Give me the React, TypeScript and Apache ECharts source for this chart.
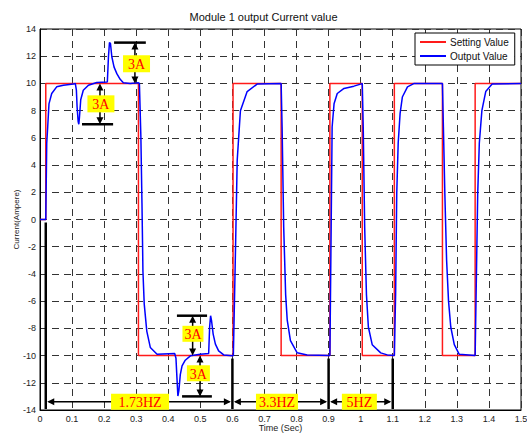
import React, { useEffect, useRef } from "react";
import * as echarts from "echarts";

const TITLE = "Module 1 output Current value";
const X_NAME = "Time (Sec)";
const Y_NAME = "Current(Ampere)";
const X_MIN = 0, X_MAX = 1.5, X_STEP = 0.1;
const Y_MIN = -14, Y_MAX = 14, Y_STEP = 2;

// Setting value (square wave) [time, current]
const settingValue: [number, number][] = [
  [0, 0], [0.018, 0], [0.018, 10], [0.307, 10], [0.307, -10], [0.602, -10], [0.602, 10],
  [0.752, 10], [0.752, -10], [0.904, -10], [0.904, 10], [1.005, 10], [1.005, -10],
  [1.105, -10], [1.105, 10], [1.255, 10], [1.255, -10], [1.357, -10], [1.357, 10], [1.5, 10],
];

// Output value
const outputValue: [number, number][] = [
  [0, 0], [0.018, 0], [0.019, 1.9], [0.021, 5.6], [0.024, 6.8], [0.028, 8.5], [0.0365, 9.26],
  [0.052, 9.75], [0.073, 9.87], [0.104, 9.95], [0.11, 10.0], [0.1135, 9.5], [0.1156, 8.3],
  [0.119, 7.2], [0.121, 7.0], [0.123, 7.5], [0.127, 8.8], [0.135, 9.5], [0.151, 9.87],
  [0.177, 10.07], [0.21, 10.1], [0.2135, 11.96], [0.2166, 13.0], [0.2197, 12.95], [0.224, 11.96],
  [0.231, 11.2], [0.24, 10.7], [0.25, 10.3], [0.26, 10.05], [0.281, 10.0], [0.307, 10.05],
  [0.31, 10], [0.3146, 6.07], [0.318, 1.2], [0.321, -3.8], [0.325, -6.2], [0.333, -8.2],
  [0.344, -9.4], [0.365, -9.9], [0.42, -9.85], [0.424, -10.2], [0.427, -11.6], [0.43, -12.97],
  [0.433, -12.6], [0.4375, -11.4], [0.443, -10.76], [0.453, -10.34], [0.469, -10.02], [0.5, -9.9],
  [0.526, -9.85], [0.529, -7.9], [0.532, -7.07], [0.535, -7.44], [0.54, -8.42], [0.547, -9.16],
  [0.557, -9.65], [0.573, -9.95], [0.599, -10.02], [0.603, -10], [0.609, -3.0], [0.615, 4.35],
  [0.625, 8.0], [0.646, 9.4], [0.677, 9.95], [0.752, 10], [0.755, 6.8], [0.76, -0.57],
  [0.766, -5.5], [0.771, -7.4], [0.781, -8.9], [0.802, -9.8], [0.833, -9.95], [0.904, -10],
  [0.908, -0.57], [0.911, 6.8], [0.917, 8.5], [0.927, 9.26], [0.948, 9.63], [0.979, 9.8],
  [1.0, 9.95], [1.005, 10], [1.008, 6.8], [1.0125, -0.57], [1.018, -5.5], [1.024, -7.9],
  [1.036, -9.2], [1.0625, -9.8], [1.083, -9.95], [1.105, -10], [1.109, -5.5], [1.1125, 1.9],
  [1.117, 5.6], [1.123, 7.8], [1.13, 9.0], [1.146, 9.75], [1.167, 10.0], [1.255, 10],
  [1.258, 6.8], [1.2625, 1.9], [1.268, -3.0], [1.274, -6.0], [1.281, -7.9], [1.292, -9.2],
  [1.307, -9.9], [1.357, -10], [1.36, -5.5], [1.365, 1.9], [1.37, 5.6], [1.378, 8.0],
  [1.39, 9.4], [1.41, 9.95], [1.5, 10],
];

// Dimension annotations: bar at barV from t0..t1, double arrow at tArrow between vA and vB, label at (tL, vL)
const dimAnnotations = [
  { bar: [0.231, 0.33, 13], arrow: [0.296, 13, 10], label: [0.301, 11.45], text: "3A", w: 27, h: 17 },
  { bar: [0.131, 0.228, 7], arrow: [0.187, 10, 7], label: [0.19, 8.5], text: "3A", w: 27, h: 17 },
  { bar: [0.427, 0.521, -7.07], arrow: [0.476, -7.07, -10], label: [0.477, -8.4], text: "3A", w: 21, h: 16 },
  { bar: [0.443, 0.536, -13], arrow: [0.499, -10, -13], label: [0.494, -11.3], text: "3A", w: 23, h: 16 },
];

// Frequency spans [tStart, tEnd, labelT, label, boxWidth]
const freqSpans: [number, number, number, string, number][] = [
  [0.018, 0.6, 0.312, "1.73HZ", 58],
  [0.6, 0.9, 0.739, "3.3HZ", 42],
  [0.9, 1.1, 0.996, "5HZ", 35],
];
const FREQ_V = -13.4;
// Marker verticals [t, top value]
const markerLines: [number, number][] = [[0.018, 0], [0.6, -10], [0.9, -10], [1.1, -10]];

const SANS = "'Liberation Sans', Arial, sans-serif";
const SERIF = "'Liberation Serif', 'Times New Roman', serif";

export default function App() {
  const ref = useRef<HTMLDivElement>(null);
  useEffect(() => {
    if (!ref.current) return;
    const chart = echarts.init(ref.current, undefined, { renderer: "svg" });
    const gridLine = { show: true, lineStyle: { color: "#333", type: [7, 5] as any, width: 1 } };
    chart.setOption({
      animation: false,
      backgroundColor: "#fff",
      title: {
        text: TITLE, left: "center", top: 6,
        textStyle: { fontSize: 11, fontWeight: "normal", color: "#111", fontFamily: SANS },
      },
      grid: {
        left: 40, right: 6, top: 29, bottom: 26, containLabel: false, outerBoundsMode: "none",
        show: true, borderColor: "#000", borderWidth: 1,
      } as any,
      legend: {
        orient: "vertical", left: 415, top: 33, padding: [4, 6, 4, 5], itemGap: 4,
        itemWidth: 26, itemHeight: 2, icon: "rect",
        backgroundColor: "#fff", borderColor: "#000", borderWidth: 1,
        textStyle: { fontSize: 10, color: "#111", fontFamily: SANS, padding: [0, 0, 0, -1] },
        data: ["Setting Value", "Output Value"],
      },
      xAxis: {
        type: "value", min: X_MIN, max: X_MAX, interval: X_STEP,
        name: X_NAME, nameLocation: "middle", nameGap: 13, nameMoveOverlap: false,
        nameTextStyle: { fontSize: 9, color: "#222", fontFamily: SANS },
        axisLine: { onZero: false, lineStyle: { color: "#000" } },
        axisTick: { show: false },
        axisLabel: { fontSize: 9, color: "#222", fontFamily: SANS, margin: 4 },
        splitLine: gridLine,
      } as any,
      yAxis: {
        type: "value", min: Y_MIN, max: Y_MAX, interval: Y_STEP,
        name: Y_NAME, nameLocation: "middle", nameGap: 20, nameMoveOverlap: false,
        nameTextStyle: { fontSize: 8, color: "#222", fontFamily: SANS },
        axisLine: { show: true, onZero: false, lineStyle: { color: "#000" } },
        axisTick: { show: false },
        axisLabel: { fontSize: 9, color: "#222", fontFamily: SANS, margin: 4 },
        splitLine: gridLine,
      } as any,
      series: [
        {
          name: "Setting Value", type: "line", data: settingValue, showSymbol: false,
          lineStyle: { color: "#ff1a1a", width: 1.5 }, itemStyle: { color: "#ff1a1a" }, z: 2,
        },
        {
          name: "Output Value", type: "line", data: outputValue, showSymbol: false,
          lineStyle: { color: "#0000ff", width: 1.5 }, itemStyle: { color: "#0000ff" }, z: 3,
        },
      ],
    });

    const px = (t: number, v: number) => chart.convertToPixel({ xAxisIndex: 0, yAxisIndex: 0 }, [t, v]) as number[];
    const g: any[] = [];
    const black = { stroke: "#000", lineWidth: 1.5 };
    const head = (x: number, y: number, dir: "up" | "down" | "left" | "right") => {
      const L = 7, W = 3.5;
      let pts: number[][];
      if (dir === "up") pts = [[x, y], [x - W, y + L], [x + W, y + L]];
      else if (dir === "down") pts = [[x, y], [x - W, y - L], [x + W, y - L]];
      else if (dir === "left") pts = [[x, y], [x + L, y - W], [x + L, y + W]];
      else pts = [[x, y], [x - L, y - W], [x - L, y + W]];
      g.push({ type: "polygon", shape: { points: pts }, style: { fill: "#000" }, z: 100 });
    };
    const label = (cx: number, cy: number, text: string, w: number, h: number) => {
      g.push({ type: "rect", shape: { x: cx - w / 2, y: cy - h / 2, width: w, height: h }, style: { fill: "#ffff00" }, z: 101 });
      g.push({
        type: "text", x: cx, y: cy + 1, z: 102,
        style: { text, fill: "#ff0000", font: `14px ${SERIF}`, align: "center", verticalAlign: "middle" },
      });
    };

    dimAnnotations.forEach((a) => {
      const [b0, b1, bv] = a.bar;
      const p0 = px(b0, bv), p1 = px(b1, bv);
      g.push({ type: "line", shape: { x1: p0[0], y1: p0[1], x2: p1[0], y2: p1[1] }, style: { stroke: "#000", lineWidth: 2.5 }, z: 100 });
      const [ta, va, vb] = a.arrow;
      const top = px(ta, Math.max(va, vb)), bot = px(ta, Math.min(va, vb));
      g.push({ type: "line", shape: { x1: top[0], y1: top[1] + 3, x2: bot[0], y2: bot[1] - 3 }, style: black, z: 100 });
      head(top[0], top[1], "up");
      head(bot[0], bot[1], "down");
      const c = px(a.label[0], a.label[1]);
      label(c[0], c[1], a.text, a.w, a.h);
    });

    markerLines.forEach(([t, v]) => {
      const a = px(t, v), b = px(t, Y_MIN);
      g.push({ type: "line", shape: { x1: a[0], y1: a[1] + 3, x2: b[0], y2: b[1] - 1 }, style: { stroke: "#000", lineWidth: 2.5 }, z: 99 });
    });

    freqSpans.forEach(([t0, t1, tl, text, w]) => {
      const a = px(t0, FREQ_V), b = px(t1, FREQ_V);
      g.push({ type: "line", shape: { x1: a[0] + 3, y1: a[1], x2: b[0] - 3, y2: b[1] }, style: black, z: 100 });
      head(a[0] + 1.5, a[1], "left");
      head(b[0] - 1.5, b[1], "right");
      const c = px(tl, FREQ_V);
      label(c[0], c[1], text, w, 16);
    });

    chart.setOption({ graphic: g });
    return () => chart.dispose();
  }, []);
  return <div ref={ref} style={{ width: 527, height: 436, position: "absolute", left: 0, top: 0 }} />;
}
